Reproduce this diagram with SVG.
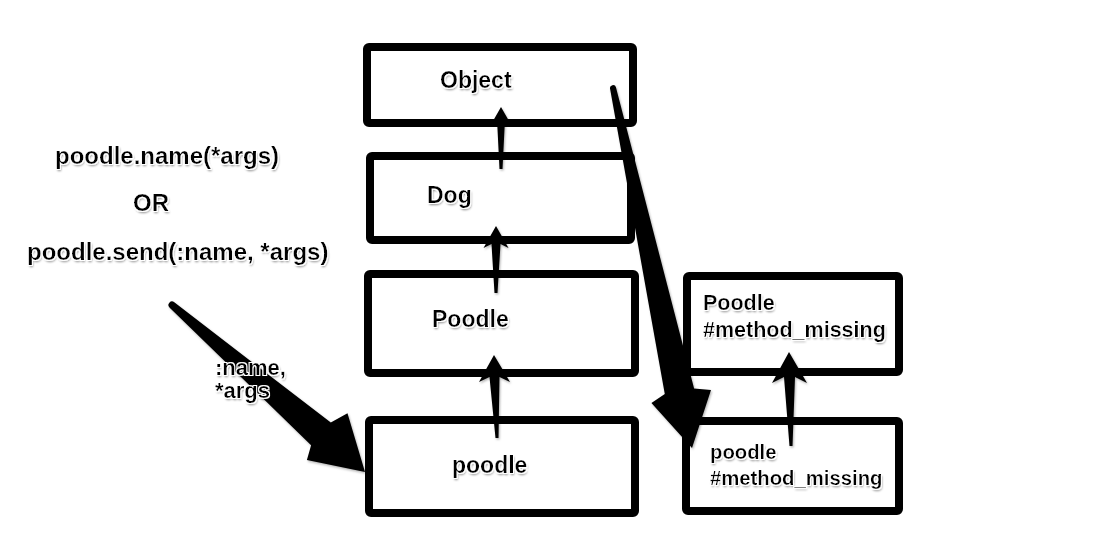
<svg xmlns="http://www.w3.org/2000/svg" width="1107" height="560" viewBox="0 0 1107 560">
  <defs>
    <filter id="tshadow" x="-10%" y="-30%" width="120%" height="160%">
      <feGaussianBlur in="SourceAlpha" stdDeviation="1.2" result="b"/>
      <feOffset in="b" dx="1" dy="2" result="o"/>
      <feFlood flood-color="#000" flood-opacity="0.45"/>
      <feComposite in2="o" operator="in" result="sh"/>
      <feMorphology in="SourceAlpha" operator="dilate" radius="1" result="d"/>
      <feFlood flood-color="#ffffff"/>
      <feComposite in2="d" operator="in" result="halo"/>
      <feMerge>
        <feMergeNode in="sh"/>
        <feMergeNode in="halo"/>
        <feMergeNode in="SourceGraphic"/>
      </feMerge>
    </filter>
    <filter id="ashadow" x="-20%" y="-20%" width="140%" height="140%">
      <feDropShadow dx="1" dy="1.5" stdDeviation="1" flood-color="#000" flood-opacity="0.3"/>
    </filter>
  </defs>
  <style>
    .box { fill: #ffffff; stroke: #000000; stroke-width: 8; stroke-linejoin: round; }
    .lbl { font-family: "Liberation Sans", Arial, Helvetica, sans-serif; font-weight: bold; fill: #000000; filter: url(#tshadow); }
    .big { font-size: 23px; }
    .left { font-size: 24px; }
    .mm { font-size: 21.5px; }
    .mm2 { font-size: 20.3px; }
    .edge { font-size: 22px; }
    .arrow { fill: #000000; stroke: none; filter: url(#ashadow); }
  </style>
  <rect width="1107" height="560" fill="#ffffff"/>

  <g id="node-object">
    <rect class="box" x="367" y="47" width="266" height="76" rx="2"/>
    <text class="lbl big" x="440" y="88">Object</text>
  </g>
  <g id="node-dog">
    <rect class="box" x="370" y="156" width="261" height="84" rx="2"/>
    <text class="lbl big" x="427" y="203">Dog</text>
  </g>
  <g id="node-Poodle">
    <rect class="box" x="368" y="274" width="267" height="99" rx="2"/>
    <text class="lbl big" x="432" y="327">Poodle</text>
  </g>
  <g id="node-poodle">
    <rect class="box" x="369" y="420" width="266" height="93" rx="2"/>
    <text class="lbl big" x="452" y="473">poodle</text>
  </g>
  <g id="node-Poodle-mm">
    <rect class="box" x="687" y="276" width="212" height="96" rx="2"/>
    <text class="lbl mm" x="703" y="310">Poodle</text>
    <text class="lbl mm" x="703" y="337">#method_missing</text>
  </g>
  <g id="node-poodle-mm">
    <rect class="box" x="686" y="421" width="213" height="90" rx="2"/>
    <text class="lbl mm2" x="710" y="459">poodle</text>
    <text class="lbl mm2" x="710" y="485">#method_missing</text>
  </g>
  <g id="node-call">
    <text class="lbl left" x="55" y="164">poodle.name(*args)</text>
    <text class="lbl left" x="133" y="211">OR</text>
    <text class="lbl left" x="27" y="260">poodle.send(:name, *args)</text>
  </g>

  <g id="connectors">
    <path class="arrow" d="M 501,107 L 509,121 L 505,119 L 502.5,169 L 499.5,169 L 497,119 L 493,121 Z"/>
    <path class="arrow" d="M 496,226 L 508.5,248 L 500.5,244 L 497.5,293 L 494.5,293 L 491.5,244 L 483.5,248 Z"/>
    <path class="arrow" d="M 494,355 L 510,382 L 499.5,377 L 498.5,438 L 495.5,438 L 489.5,377 L 479,382 Z"/>
    <path class="arrow" d="M 789,352 L 807,383 L 795,377 L 792.5,446 L 789.5,446 L 784,377 L 772,383 Z"/>
    <path class="arrow" d="M 610.07,88.64 A 3 3 0 0 1 615.93,87.36 L 694.1,388.4 L 711.0,390.0 L 692,448 L 651.43,403.08 L 664.8,394.0 Z"/>
    <path class="arrow" d="M 169.71,307.65 A 3.5 3.5 0 0 1 174.29,302.35 L 330.8,422.6 L 347.48,413.21 L 365,472 L 306.91,460.09 L 311.1,445.2 Z"/>
    <text class="lbl edge" x="215" y="375">:name,</text>
    <text class="lbl edge" x="215" y="398">*args</text>
  </g>
</svg>
